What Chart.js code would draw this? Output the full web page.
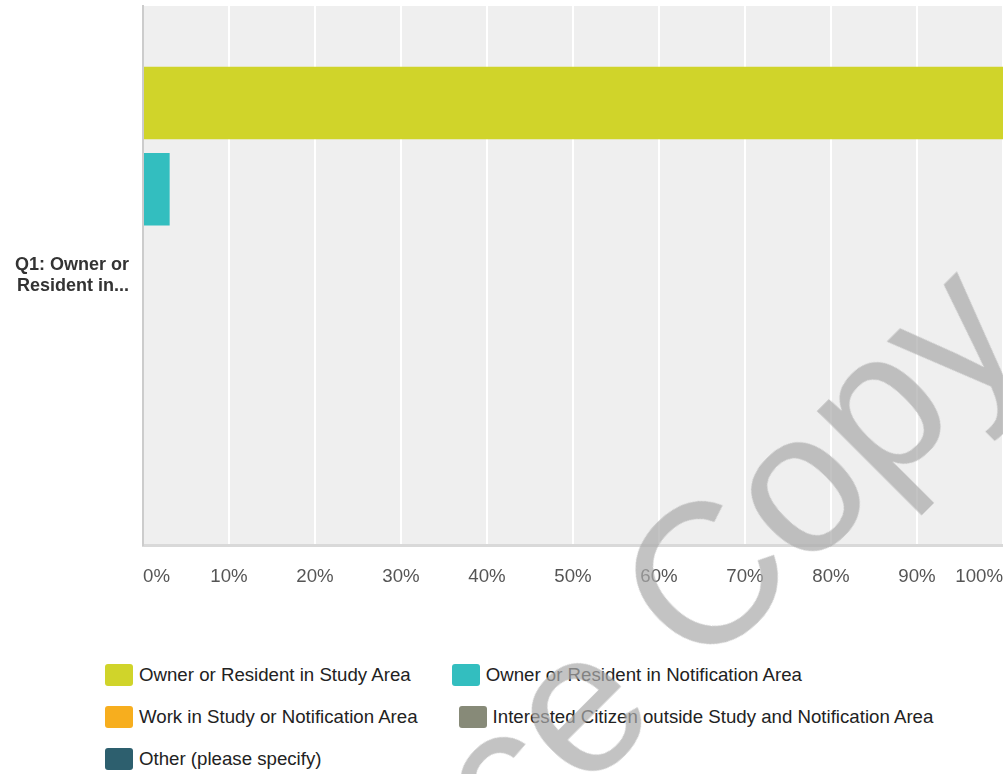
<!DOCTYPE html>
<html>
<head>
<meta charset="utf-8">
<script src="https://cdn.jsdelivr.net/npm/chart.js@4.4.1/dist/chart.umd.min.js"></script>
<style>
  html, body { margin: 0; padding: 0; background: #fff; }
  body { width: 1003px; height: 774px; position: relative; overflow: hidden; font-family: "Liberation Sans", Arial, sans-serif; }
  #chart { position: absolute; left: 0; top: 0; }
  #legend { position: absolute; left: 105px; top: 664px; width: 898px; display: flex; flex-wrap: wrap; }
  .item { display: flex; align-items: center; height: 22px; margin: 0 41px 20px 0; font-size: 18.67px; color: #222; white-space: nowrap; }
  .item .sw { width: 28px; height: 22px; border-radius: 3px; margin-right: 6px; }
  #mark { position: absolute; left: 472px; top: 808px; transform: translate(-50%, -50%) rotate(-45deg);
          font-size: 200px; color: rgba(170,170,170,0.7); white-space: nowrap; pointer-events: none; }
</style>
</head>
<body>
<canvas id="chart" width="1003" height="620"></canvas>
<div id="legend"></div>
<div id="mark">Reference Copy</div>
<script>
// Q1 answers, percent of respondents
const categories = [['Q1: Owner or', 'Resident in...']];
const seriesNames = [
  'Owner or Resident in Study Area',
  'Owner or Resident in Notification Area',
  'Work in Study or Notification Area',
  'Interested Citizen outside Study and Notification Area',
  'Other (please specify)'
];
const seriesValues = [[100], [3.1], [0], [0], [0]];
const seriesColors = ['#d0d42a', '#33bebf', '#f7ae1e', '#878a78', '#2d5f6e'];
const xTicks = [0, 10, 20, 30, 40, 50, 60, 70, 80, 90, 100];

const FONT = '"Liberation Sans", Arial, sans-serif';

const plotBg = {
  id: 'plotBg',
  beforeDraw(chart) {
    const { ctx, chartArea: a } = chart;
    ctx.save();
    ctx.fillStyle = '#efefef';
    ctx.fillRect(a.left, a.top, a.right - a.left, a.bottom - a.top);
    ctx.restore();
  }
};

new Chart(document.getElementById('chart'), {
  type: 'bar',
  data: {
    labels: categories,
    datasets: seriesNames.map((name, i) => ({
      label: name,
      data: seriesValues[i],
      backgroundColor: seriesColors[i],
      borderWidth: 0,
      barPercentage: 0.84,
      categoryPercentage: 0.8
    }))
  },
  options: {
    indexAxis: 'y',
    responsive: false,
    devicePixelRatio: 1,
    animation: false,
    layout: { padding: { top: 6, right: 0, left: 0, bottom: 0 } },
    plugins: { legend: { display: false }, tooltip: { enabled: false } },
    scales: {
      x: {
        min: 0,
        max: 100,
        afterBuildTicks: s => { s.ticks = xTicks.map(v => ({ value: v })); },
        afterFit: s => { s.height = 75; s.paddingLeft = 0; s.paddingRight = 0; },
        ticks: {
          callback: v => v + '%',
          align: 'inner',
          padding: 21,
          color: '#555',
          font: { family: FONT, size: 18.67 }
        },
        grid: { color: '#fff', lineWidth: 2, drawTicks: false },
        border: { display: true, color: '#d9d9d9', width: 3 }
      },
      y: {
        afterFit: s => { s.width = 143; s.paddingTop = 0; s.paddingBottom = 0; },
        ticks: {
          padding: 14,
          color: '#333',
          font: { family: FONT, size: 18, weight: 'bold' }
        },
        grid: { display: false, drawTicks: false },
        border: { display: true, color: '#cccccc', width: 2 }
      }
    }
  },
  plugins: [plotBg]
});

// legend built from the same series lists
const legend = document.getElementById('legend');
seriesNames.forEach((name, i) => {
  const item = document.createElement('div');
  item.className = 'item';
  const sw = document.createElement('span');
  sw.className = 'sw';
  sw.style.background = seriesColors[i];
  item.appendChild(sw);
  item.appendChild(document.createTextNode(name));
  legend.appendChild(item);
});
</script>
</body>
</html>
